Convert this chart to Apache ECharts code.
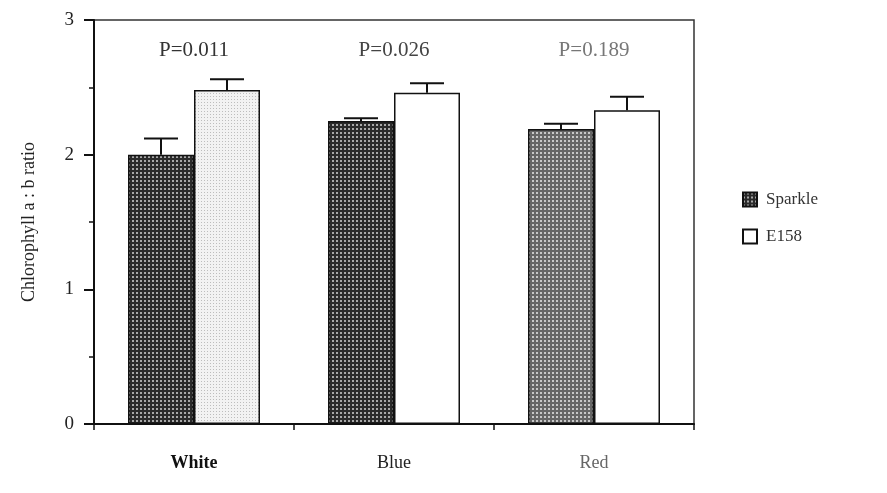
<!DOCTYPE html>
<html>
<head>
<meta charset="utf-8">
<script src="https://cdn.jsdelivr.net/npm/echarts@6/dist/echarts.min.js"></script>
<style>
  html, body { margin: 0; padding: 0; background: #fff; }
  #chart { width: 887px; height: 493px; }
</style>
</head>
<body>
<div id="chart"></div>
<script>
const categories = ['White', 'Blue', 'Red']
const sparkle = [2.00, 2.25, 2.19]
const sparkleErr = [0.12, 0.02, 0.04]
const e158 = [2.48, 2.46, 2.33]
const e158Err = [0.08, 0.07, 0.10]
const pLabels = ['P=0.011', 'P=0.026', 'P=0.189']
const pLabelY = [2.77, 2.77, 2.77]
const yTicks = [0, 1, 2, 3]

// halftone-like fill, drawn once on a tiny canvas
const dots = (bg, fg, size, dot) => {
	const c = document.createElement('canvas')
	c.width = size
	c.height = size
	const g = c.getContext('2d')
	g.fillStyle = bg
	g.fillRect(0, 0, size, size)
	g.fillStyle = fg
	g.fillRect(0, 0, dot, dot)
	return { image: c, repeat: 'repeat' }
}
const dark = dots('#2a2a2a', '#a8a8a8', 4, 2)
const mid = dots('#666666', '#c8c8c8', 4, 2)
const light = dots('#f2f2f2', '#bdbdbd', 3, 1)
const sparkleFill = [dark, dark, mid]
const e158Fill = [light, '#ffffff', '#ffffff']
const pColors = ['#333', '#444', '#777']
const catColors = ['#111', '#222', '#666']
const catWeights = ['bold', 'normal', 'normal']

const serif = '"Liberation Serif", "DejaVu Serif", serif'
let chart = echarts.init(document.getElementById('chart'))

const errorBars = (name, vals, errs, side) => ({
	name: name,
	type: 'custom',
	z: 5,
	silent: true,
	data: vals.map((v, i) => [i, v, v + errs[i]]),
	encode: { x: 0, y: [1, 2] },
	renderItem: function (params, api) {
		let bw = api.size([1, 0])[0]
		let x = api.coord([api.value(0), 0])[0] + side * bw * 0.165
		let y0 = api.coord([api.value(0), api.value(1)])[1]
		let y1 = api.coord([api.value(0), api.value(2)])[1]
		let st = { stroke: '#111', lineWidth: 2 }
		return {
			type: 'group',
			children: [
				{ type: 'line', shape: { x1: x, y1: y0, x2: x, y2: y1 }, style: st },
				{ type: 'line', shape: { x1: x - 17, y1: y1, x2: x + 17, y2: y1 }, style: st }
			]
		}
	}
})

let option = {
	animation: false,
	grid: {
		left: 94,
		right: 193,
		top: 20,
		bottom: 69,
		show: true,
		borderColor: '#333',
		borderWidth: 1.5
	},
	legend: {
		data: ['Sparkle', 'E158'],
		orient: 'vertical',
		left: 742,
		top: 191,
		padding: 0,
		itemWidth: 14,
		itemHeight: 14,
		itemGap: 20,
		icon: 'rect',
		itemStyle: { borderColor: '#111', borderWidth: 2 },
		textStyle: { fontFamily: serif, fontSize: 17, color: '#333', padding: [0, 0, 0, 4] }
	},
	xAxis: {
		type: 'category',
		data: categories,
		axisLine: { lineStyle: { color: '#111', width: 2 } },
		axisTick: { show: true, length: 6, lineStyle: { color: '#111', width: 1.5 } },
		axisLabel: {
			margin: 30,
			fontFamily: serif,
			fontSize: 18,
			formatter: (v, i) => '{c' + i + '|' + v + '}',
			rich: {
				c0: { fontFamily: serif, fontSize: 18, color: catColors[0], fontWeight: catWeights[0] },
				c1: { fontFamily: serif, fontSize: 18, color: catColors[1], fontWeight: catWeights[1] },
				c2: { fontFamily: serif, fontSize: 18, color: catColors[2], fontWeight: catWeights[2] }
			}
		},
		splitLine: { show: false }
	},
	yAxis: {
		type: 'value',
		min: yTicks[0],
		max: yTicks[yTicks.length - 1],
		interval: 1,
		name: 'Chlorophyll a : b ratio',
		nameLocation: 'middle',
		nameGap: 56,
		nameTextStyle: { fontFamily: serif, fontSize: 18, color: '#222' },
		axisLine: { show: true, lineStyle: { color: '#111', width: 2 } },
		axisTick: { show: true, length: 10, lineStyle: { color: '#111', width: 2 } },
		minorTick: { show: true, splitNumber: 2, length: 5, lineStyle: { color: '#111', width: 1.5 } },
		axisLabel: { margin: 20, fontFamily: serif, fontSize: 19, color: '#222' },
		splitLine: { show: false }
	},
	series: [
		{
			name: 'Sparkle',
			type: 'bar',
			barGap: '0%',
			barCategoryGap: '34%',
			itemStyle: { color: dark, borderColor: '#111', borderWidth: 1.5 },
			data: sparkle.map((v, i) => ({ value: v, itemStyle: { color: sparkleFill[i] } }))
		},
		{
			name: 'E158',
			type: 'bar',
			itemStyle: { color: '#ffffff', borderColor: '#111', borderWidth: 1.5 },
			data: e158.map((v, i) => ({ value: v, itemStyle: { color: e158Fill[i] } }))
		},
		errorBars('Sparkle err', sparkle, sparkleErr, -1),
		errorBars('E158 err', e158, e158Err, 1),
		{
			type: 'custom',
			silent: true,
			z: 5,
			data: pLabelY.map((v, i) => [i, v]),
			encode: { x: 0, y: 1 },
			renderItem: function (params, api) {
				let p = api.coord([api.value(0), api.value(1)])
				return {
					type: 'text',
					x: p[0],
					y: p[1],
					style: {
						text: pLabels[params.dataIndex],
						fontFamily: serif,
						fontSize: 21,
						fill: pColors[params.dataIndex],
						align: 'center',
						verticalAlign: 'middle'
					}
				}
			}
		}
	]
}
chart.setOption(option)
</script>
</body>
</html>
